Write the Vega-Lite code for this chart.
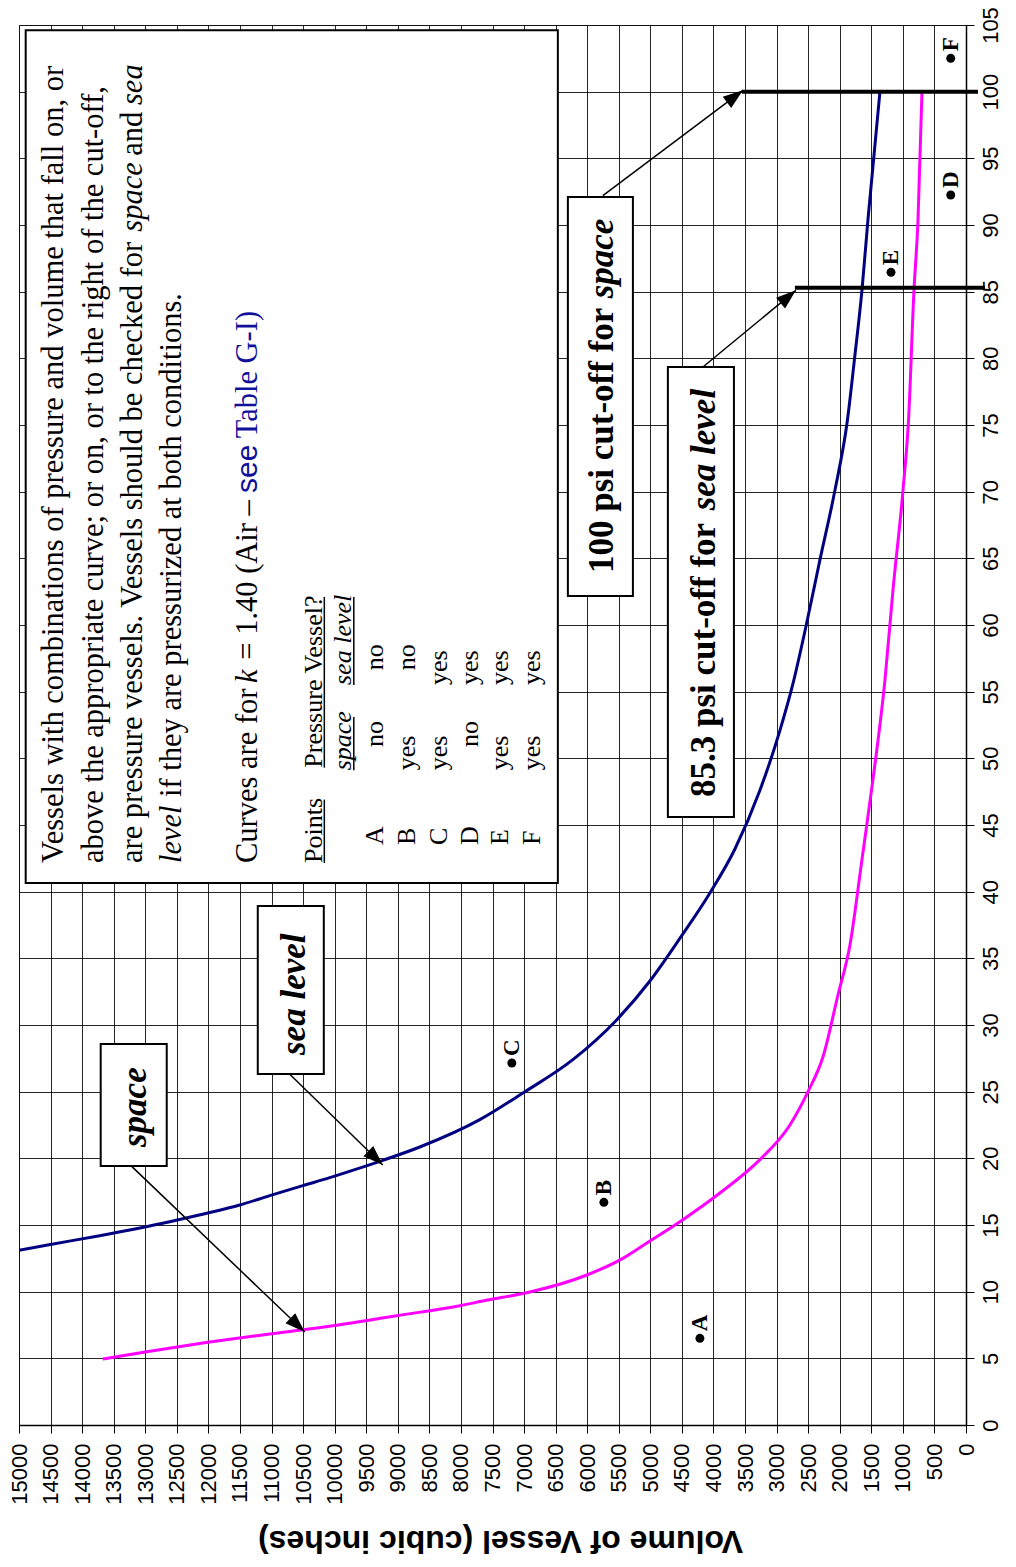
{
  "$schema": "https://vega.github.io/schema/vega-lite/v6.json",
  "width": 947,
  "height": 1400,
  "autosize": {"type": "none"},
  "padding": {"left": 19, "top": 25, "right": 50, "bottom": 142},
  "background": "white",
  "config": {"view": {"stroke": "#777", "strokeWidth": 1}},
  "datasets": {
    "curves": [
      {"series": "space", "v": 697, "p": 100},
      {"series": "space", "v": 760, "p": 90.4},
      {"series": "space", "v": 824, "p": 85.1},
      {"series": "space", "v": 910, "p": 75.4},
      {"series": "space", "v": 998, "p": 70.1},
      {"series": "space", "v": 1157, "p": 62.6},
      {"series": "space", "v": 1283, "p": 55.9},
      {"series": "space", "v": 1474, "p": 48.4},
      {"series": "space", "v": 1648, "p": 42.4},
      {"series": "space", "v": 1838, "p": 36.0},
      {"series": "space", "v": 2028, "p": 32.25},
      {"series": "space", "v": 2266, "p": 27.6},
      {"series": "space", "v": 2503, "p": 25.0},
      {"series": "space", "v": 2789, "p": 22.5},
      {"series": "space", "v": 3264, "p": 19.9},
      {"series": "space", "v": 3898, "p": 17.4},
      {"series": "space", "v": 4484, "p": 15.4},
      {"series": "space", "v": 5055, "p": 13.65},
      {"series": "space", "v": 5435, "p": 12.5},
      {"series": "space", "v": 6005, "p": 11.25},
      {"series": "space", "v": 6908, "p": 9.97},
      {"series": "space", "v": 7600, "p": 9.35},
      {"series": "space", "v": 8018, "p": 8.95},
      {"series": "space", "v": 9016, "p": 8.2},
      {"series": "space", "v": 10030, "p": 7.45},
      {"series": "space", "v": 10996, "p": 6.85},
      {"series": "space", "v": 12011, "p": 6.2},
      {"series": "space", "v": 12977, "p": 5.5},
      {"series": "space", "v": 13674, "p": 4.95},
      {"series": "sea level", "v": 1363, "p": 100},
      {"series": "sea level", "v": 1553, "p": 90.4},
      {"series": "sea level", "v": 1648, "p": 85.1},
      {"series": "sea level", "v": 1765, "p": 80.0},
      {"series": "sea level", "v": 1880, "p": 75.3},
      {"series": "sea level", "v": 2076, "p": 70.1},
      {"series": "sea level", "v": 2313, "p": 64.9},
      {"series": "sea level", "v": 2530, "p": 60.0},
      {"series": "sea level", "v": 2741, "p": 55.6},
      {"series": "sea level", "v": 2947, "p": 52.1},
      {"series": "sea level", "v": 3264, "p": 47.6},
      {"series": "sea level", "v": 3660, "p": 43.2},
      {"series": "sea level", "v": 4056, "p": 39.9},
      {"series": "sea level", "v": 4532, "p": 36.5},
      {"series": "sea level", "v": 5007, "p": 33.3},
      {"series": "sea level", "v": 5530, "p": 30.4},
      {"series": "sea level", "v": 6227, "p": 27.4},
      {"series": "sea level", "v": 7019, "p": 24.9},
      {"series": "sea level", "v": 7701, "p": 22.9},
      {"series": "sea level", "v": 8651, "p": 20.85},
      {"series": "sea level", "v": 9238, "p": 19.85},
      {"series": "sea level", "v": 9681, "p": 19.15},
      {"series": "sea level", "v": 10077, "p": 18.55},
      {"series": "sea level", "v": 10505, "p": 17.95},
      {"series": "sea level", "v": 11028, "p": 17.2},
      {"series": "sea level", "v": 11503, "p": 16.5},
      {"series": "sea level", "v": 12058, "p": 15.85},
      {"series": "sea level", "v": 12613, "p": 15.25},
      {"series": "sea level", "v": 13722, "p": 14.2},
      {"series": "sea level", "v": 14546, "p": 13.5},
      {"series": "sea level", "v": 15000, "p": 13.1}
    ],
    "cutoffs": [
      {"label": "space", "v": 3549, "v2": -190, "p": 100},
      {"label": "sea level", "v": 2710, "v2": -300, "p": 85.3}
    ],
    "boxes": [
      {"name": "note", "v": 6465, "v2": 14894, "p": 40.65, "p2": 104.6},
      {"name": "space", "v": 12660, "v2": 13706, "p": 19.43, "p2": 28.58},
      {"name": "sea level", "v": 10172, "v2": 11218, "p": 26.33, "p2": 38.93},
      {"name": "100", "v": 5276, "v2": 6306, "p": 62.18, "p2": 92.1},
      {"name": "85.3", "v": 3676, "v2": 4722, "p": 45.6, "p2": 79.35}
    ],
    "arrows": [
      {"name": "space", "v": 13215, "p": 19.4, "v2": 10474, "p2": 6.97},
      {"name": "sea level", "v": 10711, "p": 26.3, "v2": 9238, "p2": 19.5},
      {"name": "100", "v": 5752, "p": 92.2, "v2": 3533, "p2": 100.1},
      {"name": "85.3", "v": 4167, "p": 79.35, "v2": 2694, "p2": 85.1}
    ],
    "noteRegular": [
      {"t": "Vessels with combinations of pressure and volume that fall on, or", "v": 14308, "p": 42.15},
      {"t": "above the appropriate curve; or on, or to the right of the cut-off,", "v": 13674, "p": 42.15},
      {"t": "are pressure vessels. Vessels should be checked for", "v": 13056, "p": 42.15},
      {"t": "and", "v": 13056, "p": 95.2},
      {"t": "if they are pressurized at both conditions.", "v": 12438, "p": 47.1},
      {"t": "Curves are for", "v": 11234, "p": 42.15},
      {"t": "= 1.40 (Air –", "v": 11234, "p": 57.4}
    ],
    "noteItalic": [
      {"t": "space", "v": 13056, "p": 89.5},
      {"t": "sea", "v": 13056, "p": 99.0},
      {"t": "level", "v": 12438, "p": 42.15},
      {"t": "k", "v": 11234, "p": 55.65}
    ],
    "noteBlueSans": [{"t": "see", "v": 11234, "p": 69.9}],
    "noteBlueSerif": [{"t": "Table G-I)", "v": 11234, "p": 74.0}],
    "tableHead": [
      {"t": "Points", "v": 10204, "p": 42.15},
      {"t": "Pressure Vessel?", "v": 10204, "p": 49.3}
    ],
    "tableHeadItalic": [
      {"t": "space", "v": 9745, "p": 49.1},
      {"t": "sea level", "v": 9745, "p": 55.5}
    ],
    "underlines": [
      {"v": 10164, "p": 42.15, "p2": 46.9},
      {"v": 10164, "p": 49.3, "p2": 62.1},
      {"v": 9697, "p": 49.1, "p2": 53.1},
      {"v": 9697, "p": 55.5, "p2": 62.1}
    ],
    "tableCells": [
      {"t": "A", "v": 9238, "p": 43.5},
      {"t": "no", "v": 9238, "p": 50.85},
      {"t": "no", "v": 9238, "p": 56.6},
      {"t": "B", "v": 8731, "p": 43.5},
      {"t": "yes", "v": 8731, "p": 49.1},
      {"t": "no", "v": 8731, "p": 56.6},
      {"t": "C", "v": 8224, "p": 43.5},
      {"t": "yes", "v": 8224, "p": 49.1},
      {"t": "yes", "v": 8224, "p": 55.5},
      {"t": "D", "v": 7732, "p": 43.5},
      {"t": "no", "v": 7732, "p": 50.85},
      {"t": "yes", "v": 7732, "p": 55.5},
      {"t": "E", "v": 7257, "p": 43.5},
      {"t": "yes", "v": 7257, "p": 49.1},
      {"t": "yes", "v": 7257, "p": 55.5},
      {"t": "F", "v": 6750, "p": 43.5},
      {"t": "yes", "v": 6750, "p": 49.1},
      {"t": "yes", "v": 6750, "p": 55.5}
    ],
    "calloutBold": [
      {"t": "100 psi cut-off for", "v": 5593, "p": 63.9},
      {"t": "85.3 psi cut-off for", "v": 3977, "p": 47.1}
    ],
    "calloutBoldItalic": [
      {"t": "space", "v": 5593, "p": 84.5},
      {"t": "sea level", "v": 3977, "p": 68.6},
      {"t": "space", "v": 12993, "p": 20.85},
      {"t": "sea level", "v": 10474, "p": 27.75}
    ],
    "points": [
      {"label": "A", "v": 4215, "p": 6.5},
      {"label": "B", "v": 5736, "p": 16.7},
      {"label": "C", "v": 7194, "p": 27.15},
      {"label": "D", "v": 242, "p": 92.25},
      {"label": "E", "v": 1188, "p": 86.45},
      {"label": "F", "v": 242, "p": 102.5}
    ]
  },
  "encoding": {
    "x": {
      "field": "v",
      "type": "quantitative",
      "scale": {"domain": [0, 15000], "reverse": true, "nice": false, "zero": false},
      "axis": {
        "orient": "bottom",
        "values": [0,500,1000,1500,2000,2500,3000,3500,4000,4500,5000,5500,6000,6500,7000,7500,8000,8500,9000,9500,10000,10500,11000,11500,12000,12500,13000,13500,14000,14500,15000],
        "format": "d",
        "title": "Volume of Vessel (cubic inches)",
        "labelAngle": 270,
        "labelAlign": "right",
        "labelBaseline": "middle",
        "labelFont": "Liberation Sans",
        "labelFontSize": 22,
        "labelColor": "#000",
        "labelPadding": 10,
        "labelFlush": false,
        "labelOverlap": false,
        "tickSize": 8,
        "tickColor": "#000",
        "domainColor": "#000",
        "domainWidth": 1.5,
        "grid": true,
        "gridColor": "#000",
        "gridWidth": 1,
        "gridOpacity": 0.85,
        "titleFont": "Liberation Sans",
        "titleFontSize": 32,
        "titleFontWeight": "bold",
        "titleColor": "#000",
        "titleAngle": 180,
        "titleAlign": "center",
        "titleBaseline": "alphabetic",
        "titleX": 481,
        "titleY": 105
      }
    },
    "y": {
      "field": "p",
      "type": "quantitative",
      "scale": {"domain": [0, 105], "nice": false, "zero": false},
      "axis": {
        "orient": "right",
        "values": [0,5,10,15,20,25,30,35,40,45,50,55,60,65,70,75,80,85,90,95,100,105],
        "format": "d",
        "title": null,
        "labelAngle": 270,
        "labelAlign": "center",
        "labelBaseline": "top",
        "labelFont": "Liberation Sans",
        "labelFontSize": 22,
        "labelColor": "#000",
        "labelPadding": 6,
        "labelFlush": false,
        "labelOverlap": false,
        "tickSize": 8,
        "tickColor": "#000",
        "domainColor": "#000",
        "domainWidth": 1.5,
        "grid": true,
        "gridColor": "#000",
        "gridWidth": 1,
        "gridOpacity": 0.85
      }
    }
  },
  "layer": [
    {
      "data": {"name": "curves"},
      "mark": {"type": "line", "strokeWidth": 3, "clip": true, "interpolate": "monotone"},
      "encoding": {
        "color": {"field": "series", "type": "nominal", "scale": {"domain": ["sea level", "space"], "range": ["#000080", "#ff00ff"]}, "legend": null},
        "order": {"field": "v", "sort": "descending"}
      }
    },
    {
      "data": {"name": "cutoffs"},
      "mark": {"type": "rule", "strokeWidth": 4, "color": "#000", "clip": false},
      "encoding": {"x2": {"field": "v2"}}
    },
    {
      "data": {"name": "boxes"},
      "mark": {"type": "rect", "fill": "#fff", "stroke": "#000", "strokeWidth": 2},
      "encoding": {"x2": {"field": "v2"}, "y2": {"field": "p2"}}
    },
    {
      "data": {"name": "arrows"},
      "mark": {"type": "rule", "strokeWidth": 1.5, "color": "#000"},
      "encoding": {"x2": {"field": "v2"}, "y2": {"field": "p2"}}
    },
    {
      "data": {"name": "arrows"},
      "transform": [{"filter": "datum.name === 'space'"}],
      "mark": {"type": "point", "shape": "M0,0L0.35,1L-0.35,1Z", "filled": true, "color": "#000", "opacity": 1, "size": 1600, "angle": 134, "strokeWidth": 0},
      "encoding": {"x": {"field": "v2", "type": "quantitative"}, "y": {"field": "p2", "type": "quantitative"}}
    },
    {
      "data": {"name": "arrows"},
      "transform": [{"filter": "datum.name === 'sea level'"}],
      "mark": {"type": "point", "shape": "M0,0L0.35,1L-0.35,1Z", "filled": true, "color": "#000", "opacity": 1, "size": 1600, "angle": 134, "strokeWidth": 0},
      "encoding": {"x": {"field": "v2", "type": "quantitative"}, "y": {"field": "p2", "type": "quantitative"}}
    },
    {
      "data": {"name": "arrows"},
      "transform": [{"filter": "datum.name === '100'"}],
      "mark": {"type": "point", "shape": "M0,0L0.35,1L-0.35,1Z", "filled": true, "color": "#000", "opacity": 1, "size": 1600, "angle": 53, "strokeWidth": 0},
      "encoding": {"x": {"field": "v2", "type": "quantitative"}, "y": {"field": "p2", "type": "quantitative"}}
    },
    {
      "data": {"name": "arrows"},
      "transform": [{"filter": "datum.name === '85.3'"}],
      "mark": {"type": "point", "shape": "M0,0L0.35,1L-0.35,1Z", "filled": true, "color": "#000", "opacity": 1, "size": 1600, "angle": 50, "strokeWidth": 0},
      "encoding": {"x": {"field": "v2", "type": "quantitative"}, "y": {"field": "p2", "type": "quantitative"}}
    },
    {
      "data": {"name": "noteRegular"},
      "mark": {"type": "text", "angle": 270, "align": "left", "baseline": "alphabetic", "font": "Liberation Serif", "fontSize": 30.5, "color": "#000"},
      "encoding": {"text": {"field": "t"}}
    },
    {
      "data": {"name": "noteItalic"},
      "mark": {"type": "text", "angle": 270, "align": "left", "baseline": "alphabetic", "font": "Liberation Serif", "fontStyle": "italic", "fontSize": 30.5, "color": "#000"},
      "encoding": {"text": {"field": "t"}}
    },
    {
      "data": {"name": "noteBlueSans"},
      "mark": {"type": "text", "angle": 270, "align": "left", "baseline": "alphabetic", "font": "Liberation Sans", "fontSize": 30, "color": "#10109a"},
      "encoding": {"text": {"field": "t"}}
    },
    {
      "data": {"name": "noteBlueSerif"},
      "mark": {"type": "text", "angle": 270, "align": "left", "baseline": "alphabetic", "font": "Liberation Serif", "fontSize": 30.5, "color": "#10109a"},
      "encoding": {"text": {"field": "t"}}
    },
    {
      "data": {"name": "tableHead"},
      "mark": {"type": "text", "angle": 270, "align": "left", "baseline": "alphabetic", "font": "Liberation Serif", "fontSize": 26, "color": "#000"},
      "encoding": {"text": {"field": "t"}}
    },
    {
      "data": {"name": "tableHeadItalic"},
      "mark": {"type": "text", "angle": 270, "align": "left", "baseline": "alphabetic", "font": "Liberation Serif", "fontStyle": "italic", "fontSize": 26, "color": "#000"},
      "encoding": {"text": {"field": "t"}}
    },
    {
      "data": {"name": "underlines"},
      "mark": {"type": "rule", "strokeWidth": 1.5, "color": "#000"},
      "encoding": {"y2": {"field": "p2"}}
    },
    {
      "data": {"name": "tableCells"},
      "mark": {"type": "text", "angle": 270, "align": "left", "baseline": "alphabetic", "font": "Liberation Serif", "fontSize": 26, "color": "#000"},
      "encoding": {"text": {"field": "t"}}
    },
    {
      "data": {"name": "calloutBold"},
      "mark": {"type": "text", "angle": 270, "align": "left", "baseline": "alphabetic", "font": "Liberation Serif", "fontWeight": "bold", "fontSize": 35, "color": "#000"},
      "encoding": {"text": {"field": "t"}}
    },
    {
      "data": {"name": "calloutBoldItalic"},
      "mark": {"type": "text", "angle": 270, "align": "left", "baseline": "alphabetic", "font": "Liberation Serif", "fontWeight": "bold", "fontStyle": "italic", "fontSize": 35, "color": "#000"},
      "encoding": {"text": {"field": "t"}}
    },
    {
      "data": {"name": "points"},
      "mark": {"type": "circle", "size": 80, "color": "#000", "opacity": 1}
    },
    {
      "data": {"name": "points"},
      "mark": {"type": "text", "angle": 270, "align": "left", "baseline": "alphabetic", "dx": 7, "dy": 7.5, "font": "Liberation Serif", "fontWeight": "bold", "fontSize": 23, "color": "#000"},
      "encoding": {"text": {"field": "label"}}
    }
  ]
}
